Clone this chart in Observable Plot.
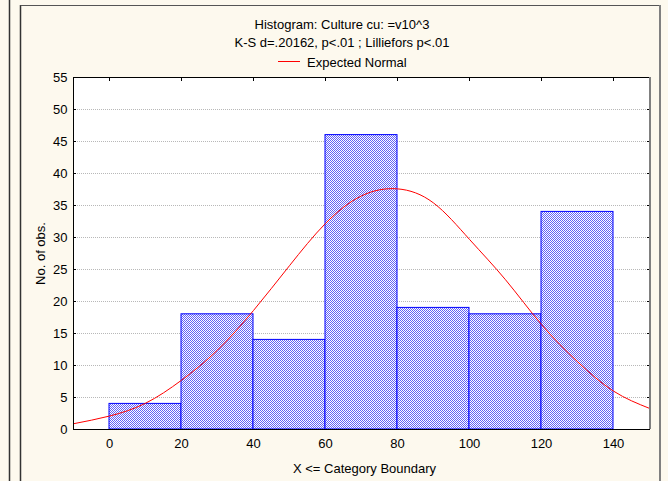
<!DOCTYPE html>
<html>
<head>
<meta charset="utf-8">
<script src="https://cdn.jsdelivr.net/npm/d3@7"></script>
<script src="https://cdn.jsdelivr.net/npm/@observablehq/plot@0.6"></script>
<style>
  html, body { margin: 0; padding: 0; background: #fdf9ee; }
  #chart svg { display: block; }
</style>
</head>
<body>
<div id="chart"></div>
<script>
// ---- data ----
const binStart = [0, 20, 40, 60, 80, 100, 120];
const binEnd   = [20, 40, 60, 80, 100, 120, 140];
const counts   = [4, 18, 14, 46, 19, 18, 34];

// Expected normal curve
const curveX = [-10, 0, 10, 20, 30, 40, 50, 60, 70, 80, 90, 100, 110, 120, 130, 140, 150];
const curveY = [0.9, 2.1, 4.1, 7.7, 12.4, 18.6, 25.6, 32.2, 36.5, 37.6, 35.4, 29.7, 23.4, 16.4, 10.6, 6.0, 3.3];

const xTicks = [0, 20, 40, 60, 80, 100, 120, 140];
const yTicks = [0, 5, 10, 15, 20, 25, 30, 35, 40, 45, 50, 55];
const gridVals = [5, 10, 15, 20, 25, 30, 35, 40, 45, 50];

const titleLine1 = "Histogram: Culture cu: =v10^3";
const titleLine2 = "K-S d=.20162, p<.01 ; Lilliefors p<.01";
const legendLabel = "Expected Normal";
const xLabel = "X <= Category Boundary";
const yLabel = "No. of obs.";

const bins = binStart.map((s, i) => ({x1: s, x2: binEnd[i], count: counts[i]}));
const curve = curveX.map((x, i) => ({x, y: curveY[i]}));

const font = "'Liberation Sans', Arial, sans-serif";

const chart = Plot.plot({
  width: 668,
  height: 481,
  marginTop: 77,
  marginBottom: 52,
  marginLeft: 73,
  marginRight: 19,
  style: {background: "transparent", fontFamily: font, fontSize: "13px", color: "#000", overflow: "visible"},
  x: {domain: [-10, 150]},
  y: {domain: [0, 55]},
  marks: [
    Plot.frame({fill: "white", stroke: null}),
    Plot.gridY(gridVals, {stroke: "#b8b8b8", strokeOpacity: 1, strokeDasharray: "1,1"}),
    Plot.rectY(bins, {x1: "x1", x2: "x2", y: "count", fill: "url(#hatch)", stroke: "#0000ff", strokeWidth: 1}),
    Plot.line(curve, {x: "x", y: "y", stroke: "#ff0000", strokeWidth: 1, curve: "natural", clip: true}),
    // tick labels
    Plot.axisX({ticks: xTicks, anchor: "bottom", tickSize: 0, tickPadding: 9, label: null, fontSize: 13}),
    Plot.axisY({ticks: yTicks, anchor: "left", tickSize: 0, tickPadding: 6, label: null, fontSize: 13}),
    // inward ticks
    Plot.axisX({ticks: xTicks, anchor: "top", tickSize: 3, dy: 3, tickFormat: () => "", label: null}),
    Plot.axisY({ticks: yTicks, anchor: "right", tickSize: 3, dx: -3, tickFormat: () => "", label: null}),
    Plot.axisY({ticks: yTicks, anchor: "left", tickSize: 3, dx: 3, tickFormat: () => "", label: null}),
    // frame
    Plot.frame({stroke: "#000", strokeWidth: 1}),
    Plot.ruleX([150], {stroke: "#808080", strokeWidth: 2, dx: 0.5}),
    // axis titles
    Plot.text([yLabel], {frameAnchor: "left", rotate: -90, dx: -33, textAnchor: "middle", lineAnchor: "middle", fontSize: 13}),
    Plot.text([xLabel], {frameAnchor: "bottom", dy: 39, dx: 3, textAnchor: "middle", lineAnchor: "middle", fontSize: 13})
  ]
});

document.getElementById("chart").appendChild(chart);

const svg = d3.select(chart);
// hatch pattern
const defs = svg.insert("defs", ":first-child");
const pat = defs.append("pattern")
  .attr("id", "hatch").attr("patternUnits", "userSpaceOnUse")
  .attr("width", 2).attr("height", 2);
pat.append("rect").attr("width", 2).attr("height", 2).attr("fill", "#ffffff");
pat.append("rect").attr("x", 0).attr("y", 0).attr("width", 1).attr("height", 1).attr("fill", "#6262f6");
pat.append("rect").attr("x", 1).attr("y", 1).attr("width", 1).attr("height", 1).attr("fill", "#6262f6");

// panel borders
const deco = svg.insert("g", ":first-child");
deco.append("line").attr("x1", 9.5).attr("x2", 9.5).attr("y1", 0).attr("y2", 481).attr("stroke", "#333").attr("stroke-width", 1.5);
deco.append("line").attr("x1", 20.5).attr("x2", 20.5).attr("y1", 5).attr("y2", 481).attr("stroke", "#333").attr("stroke-width", 1.5);
deco.append("line").attr("x1", 20.5).attr("x2", 660).attr("y1", 5.5).attr("y2", 5.5).attr("stroke", "#555").attr("stroke-width", 1);
deco.append("line").attr("x1", 660).attr("x2", 660).attr("y1", 5).attr("y2", 481).attr("stroke", "#808080").attr("stroke-width", 2);

// titles and legend
const tg = svg.append("g").attr("font-family", font).attr("font-size", 13).attr("fill", "#000");
tg.append("text").attr("x", 342).attr("y", 29).attr("text-anchor", "middle").text(titleLine1);
tg.append("text").attr("x", 342).attr("y", 47).attr("text-anchor", "middle").text(titleLine2);
tg.append("line").attr("x1", 278).attr("x2", 300).attr("y1", 61.5).attr("y2", 61.5).attr("stroke", "#ff0000").attr("stroke-width", 1);
tg.append("text").attr("x", 307).attr("y", 67).attr("text-anchor", "start").text(legendLabel);
</script>
</body>
</html>
